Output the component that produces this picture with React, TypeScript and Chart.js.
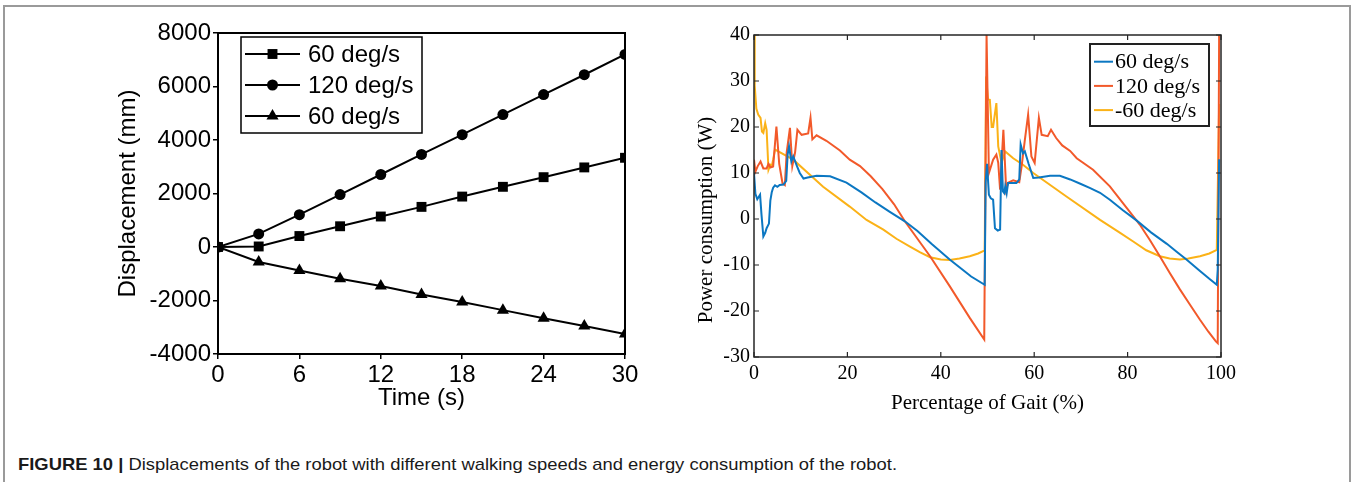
import React, { useEffect, useLayoutEffect, useRef, useState } from "react";
import { Chart, registerables } from "chart.js";

Chart.register(...registerables);

// ---------- Left chart data (Displacement vs time) ----------
const timeSeconds = [0, 3, 6, 9, 12, 15, 18, 21, 24, 27, 30];
const displacement60 = [0, 20, 410, 775, 1140, 1500, 1885, 2250, 2610, 2975, 3335];
const displacement120 = [0, 490, 1210, 1960, 2710, 3460, 4200, 4950, 5700, 6440, 7200];
const displacementNeg60 = [0, -560, -875, -1185, -1460, -1775, -2060, -2360, -2660, -2950, -3250];
const leftSeriesNames = ["60 deg/s", "120 deg/s", "60 deg/s"];
const leftMarkers = ["rect", "circle", "triangle"];
const leftXTicks = [0, 6, 12, 18, 24, 30];
const leftYTicks = [-4000, -2000, 0, 2000, 4000, 6000, 8000];

// ---------- Right chart data (Power vs gait %) ----------
const power60: [number, number][] = [
  [0, 10], [0.3, 5.5], [0.7, 4.3], [1.3, 5.3], [1.6, 1], [2.0, -3.8], [2.4, -3], [2.7, -2],
  [3.2, -1], [3.5, 4], [3.8, 5.8], [4.1, 6.8], [4.5, 7.3], [5.0, 7.0], [5.5, 7.4], [6.3, 7.5],
  [6.9, 8.3], [7.2, 14], [7.5, 15.8], [8.0, 12.5], [8.4, 13.6], [9.2, 11.5], [9.8, 10],
  [10.6, 8.8], [11.5, 9.0], [13.4, 9.4], [16.3, 9.3], [19.8, 7.9], [23, 5.8], [26, 3.6],
  [29, 1.6], [32.3, -0.5], [35, -2.6], [38, -5.4], [41.9, -8.8], [44, -10.5], [46.5, -12.5],
  [49.4, -14.3], [49.6, 8], [49.9, 12], [50.3, 5.3], [50.7, 4.5], [51.2, 4.2], [51.6, -2],
  [52.2, -2.5], [52.7, -2.3], [53.0, 15], [53.3, 6], [53.6, 5.6], [53.8, 7.1], [54.1, 5.6],
  [54.4, 7.8], [55.5, 7.8], [56.2, 7.8], [56.8, 8.6], [57.1, 16.2], [57.6, 14.3], [58.0, 14.7],
  [58.8, 12], [59.8, 8.9], [61, 9.0], [63.4, 9.4], [65.5, 9.4], [67.7, 8.6], [70, 7.6],
  [72, 6.7], [74.1, 5.7], [76.2, 4.2], [79, 1.9], [81.9, -0.3], [85, -2.9], [88.4, -5.4],
  [90.5, -7.1], [92.6, -8.8], [95.5, -11.3], [97.5, -13], [99.1, -14.3], [99.3, -11], [99.6, 13],
];
const power120: [number, number][] = [
  [0, 12.9], [0.3, 10.3], [0.8, 11.5], [1.4, 12.5], [2.0, 11.0], [2.7, 11.0], [3.1, 12.0],
  [3.5, 11.2], [4.1, 11.4], [4.8, 20.1], [5.4, 12], [6.1, 7.8], [6.6, 7.4], [7.0, 14.5],
  [7.7, 19.8], [8.2, 11.5], [8.8, 14.5], [9.3, 19.4], [10.2, 18.3], [11.6, 18.6], [12.1, 22],
  [12.5, 17.3], [13.4, 18.2], [15.5, 17], [18.4, 14.9], [20.5, 12.9], [22.7, 11.5], [25, 9.3],
  [27.5, 6.5], [30, 3.2], [32.3, -0.5], [35, -4.3], [37.7, -8.1], [41.9, -14.6], [46.2, -21.5],
  [49.3, -26.2], [49.8, 40], [50.3, 10], [51.2, 12.9], [51.9, 14], [52.3, 12.2], [52.7, 6.4],
  [53.0, 12], [53.4, 19.4], [54.0, 6.4], [54.4, 7.9], [55.5, 8.4], [56.8, 8.0], [57.3, 11.4],
  [58.0, 17.2], [58.7, 22.7], [59.4, 13.6], [60.1, 12.2], [61.0, 22], [61.6, 18.3], [62.9, 18],
  [63.6, 19.4], [64.7, 17.6], [66, 16], [67.7, 14.8], [69.1, 13.2], [72.6, 10.7], [76.2, 7.1],
  [79.8, 2.4], [82.6, -1.2], [84.8, -4.6], [86.9, -8.1], [89, -11.7], [91.2, -15.3],
  [93.4, -18.7], [95.5, -21.9], [97.3, -24.5], [98.9, -26.6], [99.3, -27], [99.6, 40],
];
const powerNeg60: [number, number][] = [
  [0, 40], [0.15, 29], [0.5, 24], [0.9, 22.7], [1.4, 22], [1.7, 19], [2.0, 18.7], [2.4, 20.8],
  [2.7, 19.4], [3.1, 10.7], [3.5, 11.8], [3.8, 11.5], [4.1, 12.9], [4.5, 15.1], [8.4, 12.9],
  [14.8, 7.0], [20.5, 2.7], [24.1, -0.2], [27.7, -2.3], [30.5, -4.3], [33.4, -6.0], [35.5, -7.2],
  [37.7, -8.3], [40, -8.8], [41.9, -8.9], [44, -8.6], [46.2, -8.1], [48, -7.5], [49.4, -6.8],
  [49.7, 31], [50.1, 26], [50.5, 25.9], [50.9, 20], [51.2, 20], [51.9, 25.2], [52.3, 15.8],
  [53.0, 12.2], [53.8, 14.7], [55.5, 13.2], [57.6, 11.8], [59.8, 10], [66.9, 4.9], [74.1, -0.2],
  [78.4, -3], [81.2, -4.9], [84, -6.8], [86.9, -8.1], [89, -8.6], [91.2, -8.8], [93, -8.6],
  [95.5, -8.1], [97.5, -7.5], [99.1, -6.7], [99.6, 25],
];
const rightSeriesNames = ["60 deg/s", "120 deg/s", "-60 deg/s"];
const rightColors = ["#0b77c2", "#f2592a", "#fbb217"];
const rightXTicks = [0, 20, 40, 60, 80, 100];
const rightYTicks = [-30, -20, -10, 0, 10, 20, 30, 40];

const SANS = '"Liberation Sans", Arial, sans-serif';
const SERIF = '"Liberation Serif", "Times New Roman", serif';

function drawMarker(ctx: CanvasRenderingContext2D, style: string, x: number, y: number, r: number) {
  ctx.beginPath();
  if (style === "rect") {
    const s = Math.SQRT1_2 * r;
    ctx.rect(x - s, y - s, 2 * s, 2 * s);
  } else if (style === "circle") {
    ctx.arc(x, y, r, 0, Math.PI * 2);
  } else {
    for (let k = 0; k < 3; k++) {
      const a = (k * 2 * Math.PI) / 3;
      const px = x + Math.sin(a) * r;
      const py = y - Math.cos(a) * r;
      if (k === 0) ctx.moveTo(px, py);
      else ctx.lineTo(px, py);
    }
    ctx.closePath();
  }
  ctx.fill();
}

const leftRadii = [7, 5.5, 7];

const leftFramePlugin = {
  id: "leftFrame",
  afterDraw(chart: any) {
    const { ctx, chartArea } = chart;
    const { left, top, right, bottom } = chartArea;
    ctx.save();
    ctx.strokeStyle = "#000";
    ctx.lineWidth = 2;
    ctx.strokeRect(left, top, right - left, bottom - top);
    // legend
    const bx = left + 23, by = top + 4, bw = 181, bh = 96;
    ctx.fillStyle = "#fff";
    ctx.fillRect(bx, by, bw, bh);
    ctx.lineWidth = 1.5;
    ctx.strokeRect(bx, by, bw, bh);
    chart.data.datasets.forEach((ds: any, i: number) => {
      const y = by + 17 + i * 31;
      ctx.strokeStyle = "#000";
      ctx.lineWidth = 2;
      ctx.beginPath();
      ctx.moveTo(bx + 4, y);
      ctx.lineTo(bx + 59, y);
      ctx.stroke();
      ctx.fillStyle = "#000";
      drawMarker(ctx, leftMarkers[i], bx + 31.5, y, leftRadii[i]);
      ctx.font = `24px ${SANS}`;
      ctx.textBaseline = "middle";
      ctx.textAlign = "left";
      ctx.fillText(ds.label, bx + 67, y + 1);
    });
    ctx.restore();
  },
};

const rightFramePlugin = {
  id: "rightFrame",
  afterDraw(chart: any) {
    const { ctx, chartArea, scales } = chart;
    const { left, top, right, bottom } = chartArea;
    ctx.save();
    ctx.strokeStyle = "#262626";
    ctx.lineWidth = 1.5;
    ctx.strokeRect(left, top, right - left, bottom - top);
    ctx.lineWidth = 1.2;
    ctx.beginPath();
    scales.x.ticks.forEach((t: any) => {
      const x = scales.x.getPixelForValue(t.value);
      ctx.moveTo(x, bottom);
      ctx.lineTo(x, bottom - 5);
      ctx.moveTo(x, top);
      ctx.lineTo(x, top + 5);
    });
    scales.y.ticks.forEach((t: any) => {
      const y = scales.y.getPixelForValue(t.value);
      ctx.moveTo(left, y);
      ctx.lineTo(left + 5, y);
      ctx.moveTo(right, y);
      ctx.lineTo(right - 5, y);
    });
    ctx.stroke();
    // y-axis title
    ctx.save();
    ctx.translate(36, 220);
    ctx.rotate(-Math.PI / 2);
    ctx.font = `21px ${SERIF}`;
    ctx.fillStyle = "#000";
    ctx.textAlign = "center";
    ctx.textBaseline = "middle";
    ctx.fillText("Power consumption (W)", 0, 0);
    ctx.restore();
    // legend
    const bx = left + 336, by = top + 9, bw = 119, bh = 82;
    ctx.fillStyle = "#fff";
    ctx.fillRect(bx, by, bw, bh);
    ctx.strokeStyle = "#222";
    ctx.lineWidth = 2;
    ctx.strokeRect(bx, by, bw, bh);
    chart.data.datasets.forEach((ds: any, i: number) => {
      const y = by + 17.7 + i * 24.2;
      ctx.strokeStyle = ds.borderColor;
      ctx.lineWidth = 2;
      ctx.beginPath();
      ctx.moveTo(bx + 4, y);
      ctx.lineTo(bx + 23, y);
      ctx.stroke();
      ctx.fillStyle = "#000";
      ctx.font = `22px ${SERIF}`;
      ctx.textBaseline = "middle";
      ctx.textAlign = "left";
      ctx.fillText(ds.label, bx + 25, y + 1);
    });
    ctx.restore();
  },
};

const plainTick = (v: any) => String(v);

function LeftChart() {
  const ref = useRef<HTMLCanvasElement>(null);
  useEffect(() => {
    const series = [displacement60, displacement120, displacementNeg60];
    const chart = new Chart(ref.current!, {
      type: "line",
      data: {
        datasets: series.map((vals, i) => ({
          label: leftSeriesNames[i],
          data: timeSeconds.map((t, j) => ({ x: t, y: vals[j] })),
          borderColor: "#000",
          backgroundColor: "#000",
          borderWidth: 2,
          pointStyle: leftMarkers[i] as any,
          pointRadius: leftRadii[i],
          pointBorderWidth: 0,
          pointBackgroundColor: "#000",
        })),
      },
      options: {
        animation: false,
        responsive: false,
        devicePixelRatio: 1,
        layout: { padding: { top: 33, right: 35, bottom: 0, left: 0 } },
        plugins: { legend: { display: false }, tooltip: { enabled: false } },
        scales: {
          x: {
            type: "linear",
            min: 0,
            max: 30,
            afterBuildTicks: (s: any) => { s.ticks = leftXTicks.map((v) => ({ value: v })); },
            ticks: { font: { size: 24, family: SANS }, color: "#000", padding: 2, maxRotation: 0, callback: plainTick },
            grid: { drawOnChartArea: false, color: "#000", lineWidth: 1.5, tickLength: 5 },
            border: { display: false },
            title: { display: true, text: "Time (s)", font: { size: 24, family: SANS }, color: "#000", padding: { top: 0, bottom: 7 } },
            afterFit: (s: any) => { s.height = 66; },
          },
          y: {
            type: "linear",
            min: -4000,
            max: 8000,
            afterBuildTicks: (s: any) => { s.ticks = leftYTicks.map((v) => ({ value: v })); },
            ticks: { font: { size: 24, family: SANS }, color: "#000", padding: 2, callback: plainTick },
            grid: { drawOnChartArea: false, color: "#000", lineWidth: 1.5, tickLength: 5 },
            border: { display: false },
            title: { display: true, text: "Displacement (mm)", font: { size: 24, family: SANS }, color: "#000", padding: { top: 14, bottom: 0 } },
            afterFit: (s: any) => { s.width = 118; },
          },
        },
      },
      plugins: [leftFramePlugin],
    } as any);
    return () => chart.destroy();
  }, []);
  return (
    <canvas ref={ref} width={560} height={420}
      style={{ position: "absolute", left: 100, top: 0, width: 560, height: 420 }} />
  );
}

function RightChart() {
  const ref = useRef<HTMLCanvasElement>(null);
  useEffect(() => {
    const series = [power60, power120, powerNeg60];
    const chart = new Chart(ref.current!, {
      type: "line",
      data: {
        datasets: series.map((pts, i) => ({
          label: rightSeriesNames[i],
          data: pts.map(([x, y]) => ({ x, y })),
          borderColor: rightColors[i],
          backgroundColor: rightColors[i],
          borderWidth: 2,
          pointRadius: 0,
          tension: 0,
        })),
      },
      options: {
        animation: false,
        responsive: false,
        devicePixelRatio: 1,
        layout: { padding: { top: 35, right: 49, bottom: 0, left: 0 } },
        plugins: { legend: { display: false }, tooltip: { enabled: false } },
        scales: {
          x: {
            type: "linear",
            min: 0,
            max: 100,
            afterBuildTicks: (s: any) => { s.ticks = rightXTicks.map((v) => ({ value: v })); },
            ticks: { font: { size: 20, family: SERIF }, color: "#000", padding: 5, maxRotation: 0, callback: plainTick },
            grid: { display: false, drawTicks: false },
            border: { display: false },
            title: { display: true, text: "Percentage of Gait (%)", font: { size: 21, family: SERIF }, color: "#000", padding: { top: 0, bottom: 4 } },
            afterFit: (s: any) => { s.height = 63; },
          },
          y: {
            type: "linear",
            min: -30,
            max: 40,
            afterBuildTicks: (s: any) => { s.ticks = rightYTicks.map((v) => ({ value: v })); },
            ticks: { font: { size: 20, family: SERIF }, color: "#000", padding: 4, callback: plainTick },
            grid: { display: false, drawTicks: false },
            border: { display: false },
            title: { display: false },
            afterFit: (s: any) => { s.width = 84; },
          },
        },
      },
      plugins: [rightFramePlugin],
    } as any);
    return () => chart.destroy();
  }, []);
  return (
    <canvas ref={ref} width={600} height={420}
      style={{ position: "absolute", left: 670, top: 0, width: 600, height: 420 }} />
  );
}

function Caption() {
  const ref = useRef<HTMLSpanElement>(null);
  const [scale, setScale] = useState(1);
  useLayoutEffect(() => {
    if (ref.current) {
      const w = ref.current.getBoundingClientRect().width;
      if (w > 0) setScale(879 / w);
    }
  }, []);
  return (
    <div style={{ position: "absolute", left: 18, top: 455, whiteSpace: "nowrap", fontFamily: SANS, fontSize: 17, color: "#1a1a1a", lineHeight: "20px", transformOrigin: "0 0", transform: `scaleX(${scale})` }}>
      <span ref={ref} style={{ display: "inline-block" }}>
        <b>FIGURE 10 |</b> Displacements of the robot with different walking speeds and energy consumption of the robot.
      </span>
    </div>
  );
}

export default function App() {
  return (
    <div style={{ position: "absolute", left: 0, top: 0, width: 1352, height: 482, overflow: "hidden", background: "#fff" }}>
      <div style={{ position: "absolute", left: 3, top: 5, width: 1344, height: 520, border: "2px solid #9a9a9a" }} />
      <LeftChart />
      <RightChart />
      <Caption />
    </div>
  );
}
